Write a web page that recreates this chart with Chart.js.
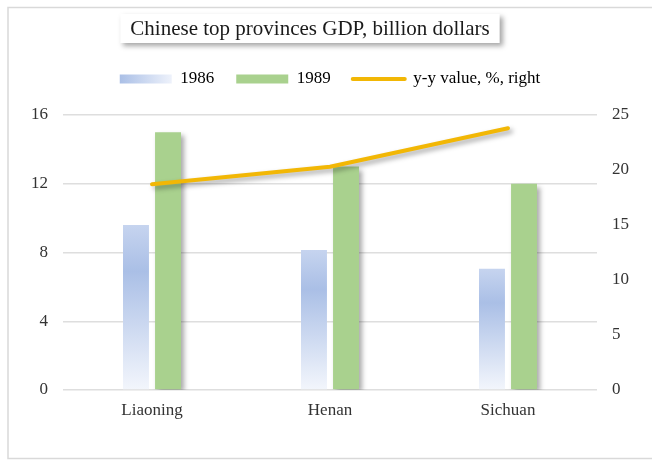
<!DOCTYPE html>
<html>
<head>
<meta charset="utf-8">
<script src="https://cdn.jsdelivr.net/npm/chart.js@4.4.1/dist/chart.umd.min.js"></script>
<style>
  html, body { margin: 0; padding: 0; background: #fff; }
  #wrap { width: 652px; height: 462px; }
</style>
</head>
<body>
<div id="wrap"><canvas id="gdp-chart"></canvas></div>
<script>
const chartTitle = 'Chinese top provinces GDP, billion dollars';
const provinces = ['Liaoning', 'Henan', 'Sichuan'];
const gdp1986 = [9.6, 8.15, 7.05];
const gdp1989 = [15.0, 13.0, 12.0];
const yyValue = [18.7, 20.3, 23.8];
const leftTicks = [0, 4, 8, 12, 16];
const rightTicks = [0, 5, 10, 15, 20, 25];

const serif = "'Liberation Serif', 'Times New Roman', serif";
const green = '#a9d18e';
const gold = '#f2b705';
const textColor = '#333333';

// vertical gradient per bar, dark near the top and fading out to white at the base
function barGradient(context) {
  const chart = context.chart;
  if (!chart.chartArea || context.type !== 'data') return '#b4c6ea';
  const y = chart.scales.y;
  const top = y.getPixelForValue(context.raw);
  const bottom = y.getPixelForValue(0);
  const g = chart.ctx.createLinearGradient(0, top, 0, bottom);
  g.addColorStop(0, '#c6d4ef');
  g.addColorStop(0.28, '#aabfe6');
  g.addColorStop(1, '#f3f6fc');
  return g;
}

const shadowPlugin = {
  id: 'shadow',
  beforeDatasetDraw(chart, args) {
    if (!chart.data.datasets[args.index].shadow) return;
    const c = chart.ctx;
    c.save();
    c.shadowColor = 'rgba(0,0,0,0.35)';
    c.shadowBlur = 5;
    c.shadowOffsetX = 3;
    c.shadowOffsetY = 3;
  },
  afterDatasetDraw(chart, args) {
    if (chart.data.datasets[args.index].shadow) chart.ctx.restore();
  }
};

const framePlugin = {
  id: 'frame',
  afterInit(chart) {
    // extra room between the legend and the plot area
    const legend = chart.legend;
    const fit = legend.fit;
    legend.fit = function () { fit.call(this); this.height += 17.5; };
  },
  beforeDraw(chart) {
    const c = chart.ctx;
    c.save();
    c.fillStyle = '#fff';
    c.fillRect(0, 0, chart.width, chart.height);
    c.strokeStyle = '#d9d9d9';
    c.lineWidth = 1.5;
    c.strokeRect(8, 7.5, chart.width + 10, 451);

    // title in a white box with a drop shadow
    c.font = '21px ' + serif;
    const w = c.measureText(chartTitle).width;
    const cx = 310;
    c.shadowColor = 'rgba(0,0,0,0.35)';
    c.shadowBlur = 5;
    c.shadowOffsetX = 3;
    c.shadowOffsetY = 3;
    c.fillStyle = '#fff';
    c.fillRect(cx - w / 2 - 10, 14, w + 20, 29);
    c.shadowColor = 'rgba(0,0,0,0)';
    c.fillStyle = '#1a1a1a';
    c.textAlign = 'center';
    c.textBaseline = 'middle';
    c.fillText(chartTitle, cx, 29);
    c.restore();

    // horizontal gradient for the 1986 legend swatch
    const hb = chart.legend.legendHitBoxes[0];
    if (hb) {
      const g = c.createLinearGradient(hb.left, 0, hb.left + 52, 0);
      g.addColorStop(0, '#aabfe6');
      g.addColorStop(1, '#eef2fb');
      chart.legend.legendItems[0].fillStyle = g;
    }
  }
};

const ctx = document.getElementById('gdp-chart').getContext('2d');

new Chart(ctx, {
  type: 'bar',
  data: {
    labels: provinces,
    datasets: [{
      label: '1986',
      data: gdp1986,
      backgroundColor: barGradient,
      categoryPercentage: 0.36,
      barPercentage: 0.81,
      order: 1
    }, {
      label: '1989',
      data: gdp1989,
      backgroundColor: green,
      categoryPercentage: 0.36,
      barPercentage: 0.81,
      order: 1,
      shadow: true
    }, {
      type: 'line',
      label: 'y-y value, %, right',
      data: yyValue,
      yAxisID: 'y1',
      borderColor: gold,
      backgroundColor: gold,
      borderWidth: 4,
      borderCapStyle: 'round',
      borderJoinStyle: 'round',
      pointRadius: 0,
      tension: 0,
      order: 0,
      shadow: true
    }]
  },
  options: {
    responsive: true,
    maintainAspectRatio: false,
    animation: false,
    layout: {
      padding: { top: 48.5, left: 16, right: 8, bottom: 31.6 }
    },
    plugins: {
      title: { display: false },
      tooltip: { enabled: false },
      legend: {
        position: 'top',
        labels: {
          usePointStyle: true,
          pointStyleWidth: 52,
          boxHeight: 9,
          padding: 22,
          color: textColor,
          font: { family: serif, size: 17 },
          generateLabels() {
            return [
              { text: '1986', fillStyle: '#b9c9ec', strokeStyle: 'rgba(0,0,0,0)', lineWidth: 0, pointStyle: 'rect', datasetIndex: 0 },
              { text: '1989', fillStyle: green, strokeStyle: 'rgba(0,0,0,0)', lineWidth: 0, pointStyle: 'rect', datasetIndex: 1 },
              { text: 'y-y value, %, right', fillStyle: gold, strokeStyle: gold, lineWidth: 4, lineCap: 'round', pointStyle: 'line', datasetIndex: 2 }
            ];
          }
        }
      }
    },
    scales: {
      x: {
        grid: { display: false, drawTicks: false },
        border: { display: false },
        ticks: { padding: 10, color: textColor, font: { family: serif, size: 17 } }
      },
      y: {
        position: 'left',
        min: leftTicks[0],
        max: leftTicks[leftTicks.length - 1],
        ticks: { stepSize: leftTicks[1] - leftTicks[0], padding: 15, color: textColor, font: { family: serif, size: 17 } },
        grid: { color: '#dedede', lineWidth: 1.5, drawTicks: false },
        border: { display: false }
      },
      y1: {
        position: 'right',
        min: rightTicks[0],
        max: rightTicks[rightTicks.length - 1],
        ticks: { stepSize: rightTicks[1] - rightTicks[0], padding: 15, color: textColor, font: { family: serif, size: 17 } },
        grid: { display: false, drawTicks: false },
        border: { display: false }
      }
    }
  },
  plugins: [shadowPlugin, framePlugin]
});
</script>
</body>
</html>
